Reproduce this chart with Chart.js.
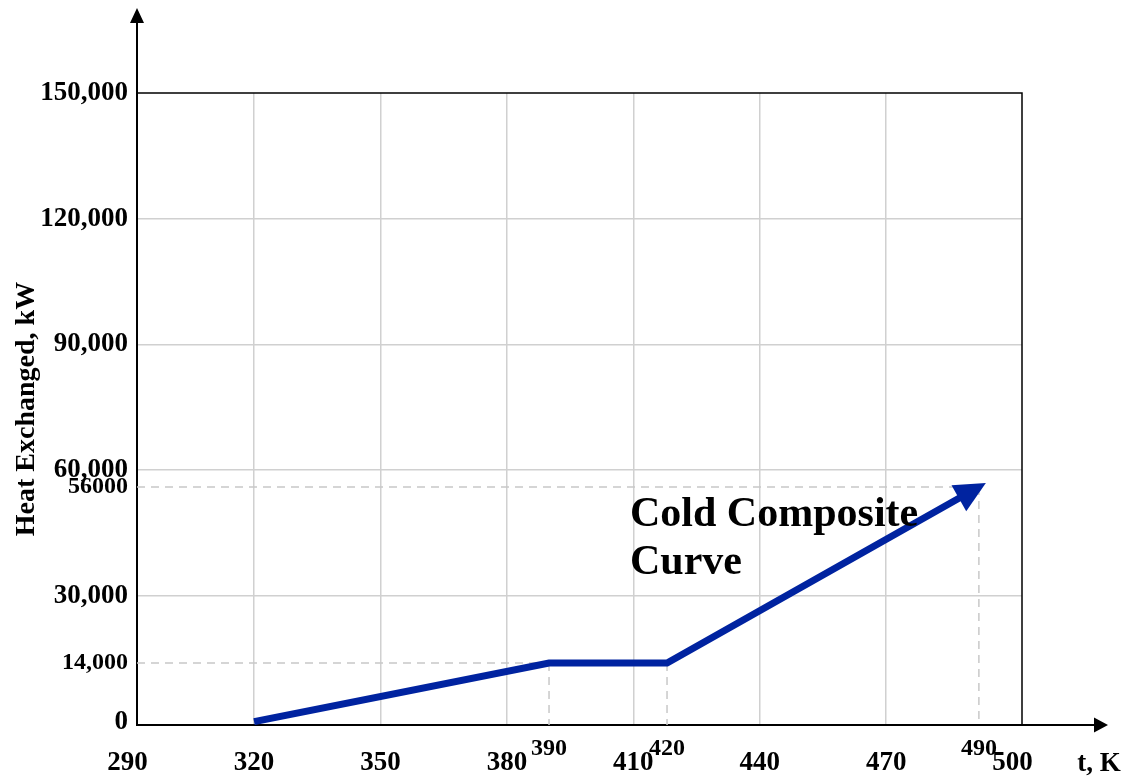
<!DOCTYPE html>
<html>
<head>
<meta charset="utf-8">
<script src="https://cdn.jsdelivr.net/npm/chart.js@4/dist/chart.umd.min.js"></script>
<style>
  html, body { margin: 0; padding: 0; background: #fff; }
  #wrap { width: 1128px; height: 782px; }
</style>
</head>
<body>
<div id="wrap"><canvas id="cc" width="1128" height="782"></canvas></div>
<script>
// temperatures (K) and heat exchanged (kW) along the cold composite curve
const curveT = [320, 390, 418, 492];
const curveQ = [0, 14000, 14000, 56000];
const markLabels = ['', '390', '420', '490'];

// axis ticks
const xTicks = [290, 320, 350, 380, 410, 440, 470, 500];
const yTicks = [0, 14000, 30000, 56000, 60000, 90000, 120000, 150000];
const yTickLabels = ['0', '14,000', '30,000', '56000', '60,000', '90,000', '120,000', '150,000'];
const yGridTicks = [30000, 60000, 90000, 120000];
const ySmallTicks = [14000, 56000];

// which curve points get dashed guide lines
const vGuide = [false, true, true, true];
const hGuide = [false, true, false, true];

const FONT = "'Liberation Serif', 'Times New Roman', serif";
const BLUE = '#0023a0';
const GRID = '#d0d0d0';

const decor = {
  id: 'decor',
  beforeDatasetsDraw(chart) {
    const {ctx, chartArea: a, scales: {x, y}} = chart;
    ctx.save();
    ctx.strokeStyle = '#c8c8c8';
    ctx.lineWidth = 1.5;
    ctx.setLineDash([8, 6]);
    curveT.forEach((t, i) => {
      const px = x.getPixelForValue(t), py = y.getPixelForValue(curveQ[i]);
      ctx.beginPath();
      if (hGuide[i]) { ctx.moveTo(a.left, py); ctx.lineTo(px, py); }
      if (vGuide[i]) { ctx.moveTo(px, py); ctx.lineTo(px, a.bottom); }
      ctx.stroke();
    });
    ctx.restore();
  },
  afterDatasetsDraw(chart) {
    const {ctx, scales: {x, y}} = chart;
    const n = curveT.length;
    const x0 = x.getPixelForValue(curveT[n - 2]), y0 = y.getPixelForValue(curveQ[n - 2]);
    const x1 = x.getPixelForValue(curveT[n - 1]), y1 = y.getPixelForValue(curveQ[n - 1]);
    const ang = Math.atan2(y1 - y0, x1 - x0);
    const c = Math.cos(ang), s = Math.sin(ang);
    const tx = x1 + 8 * c, ty = y1 + 8 * s;
    const bx = tx - 31 * c, by = ty - 31 * s;
    ctx.save();
    ctx.fillStyle = BLUE;
    ctx.beginPath();
    ctx.moveTo(tx, ty);
    ctx.lineTo(bx - 15 * s, by + 15 * c);
    ctx.lineTo(bx + 15 * s, by - 15 * c);
    ctx.closePath();
    ctx.fill();
    ctx.restore();
  },
  afterDraw(chart) {
    const {ctx, chartArea: a, scales: {x}} = chart;
    ctx.save();
    // top and right frame
    ctx.strokeStyle = '#000';
    ctx.lineWidth = 1.5;
    ctx.beginPath();
    ctx.moveTo(a.left, a.top); ctx.lineTo(a.right, a.top); ctx.lineTo(a.right, a.bottom);
    ctx.stroke();
    // axis extensions with arrows
    ctx.lineWidth = 2;
    ctx.beginPath();
    ctx.moveTo(a.left, a.top); ctx.lineTo(a.left, 20);
    ctx.moveTo(a.right, a.bottom); ctx.lineTo(1096, a.bottom);
    ctx.stroke();
    ctx.fillStyle = '#000';
    ctx.beginPath();
    ctx.moveTo(a.left, 8); ctx.lineTo(a.left - 7, 23); ctx.lineTo(a.left + 7, 23); ctx.closePath();
    ctx.moveTo(1108, a.bottom); ctx.lineTo(1094, a.bottom - 7.5); ctx.lineTo(1094, a.bottom + 7.5); ctx.closePath();
    ctx.fill();
    // axis title
    ctx.textAlign = 'center';
    ctx.textBaseline = 'middle';
    ctx.font = `bold 27px ${FONT}`;
    ctx.fillText('t, K', 1099, a.bottom + 39);
    // labels for the break points
    ctx.font = `bold 24px ${FONT}`;
    curveT.forEach((t, i) => {
      if (markLabels[i]) ctx.fillText(markLabels[i], x.getPixelForValue(t), a.bottom + 24);
    });
    // curve name
    ctx.textAlign = 'left';
    ctx.textBaseline = 'alphabetic';
    ctx.font = `bold 42px ${FONT}`;
    ctx.fillText('Cold Composite', 630, 526);
    ctx.fillText('Curve', 630, 574);
    ctx.restore();
  }
};

new Chart(document.getElementById('cc'), {
  type: 'line',
  data: {
    datasets: [{
      data: curveT.map((t, i) => ({x: t, y: curveQ[i]})),
      borderColor: BLUE,
      borderWidth: 7,
      borderCapStyle: 'butt',
      borderJoinStyle: 'miter',
      pointRadius: 0,
      tension: 0,
      fill: false
    }]
  },
  options: {
    responsive: false,
    animation: false,
    events: [],
    layout: { padding: { top: 93, right: 106, left: 0, bottom: 0 } },
    plugins: { legend: { display: false }, tooltip: { enabled: false } },
    scales: {
      x: {
        type: 'linear',
        min: 292.23,
        max: 502.23,
        afterBuildTicks: s => { s.ticks = xTicks.map(v => ({value: v})); },
        afterFit: s => { s.height = 57; },
        grid: {
          drawTicks: false,
          lineWidth: 1.5,
          color: c => (c.tick && c.tick.value > 300 && c.tick.value < 490) ? GRID : 'rgba(0,0,0,0)'
        },
        border: { display: true, color: '#000', width: 2 },
        ticks: {
          autoSkip: false,
          maxRotation: 0,
          padding: 22,
          color: '#000',
          font: { family: FONT, weight: 'bold', size: 27 },
          callback: v => String(v)
        }
      },
      y: {
        type: 'linear',
        min: -800,
        max: 150000,
        afterBuildTicks: s => { s.ticks = yTicks.map(v => ({value: v})); },
        afterFit: s => { s.width = 137; },
        grid: {
          drawTicks: false,
          lineWidth: 1.5,
          color: c => (c.tick && yGridTicks.includes(c.tick.value)) ? GRID : 'rgba(0,0,0,0)'
        },
        border: { display: true, color: '#000', width: 2 },
        title: {
          display: true,
          text: 'Heat Exchanged, kW',
          color: '#000',
          padding: { top: 10, bottom: 0 },
          font: { family: FONT, weight: 'bold', size: 28, lineHeight: 1.2 }
        },
        ticks: {
          autoSkip: false,
          padding: 9,
          color: '#000',
          font: c => ({ family: FONT, weight: 'bold', size: (c.tick && ySmallTicks.includes(c.tick.value)) ? 24 : 27 }),
          callback: (v, i) => yTickLabels[yTicks.indexOf(v)]
        }
      }
    }
  },
  plugins: [decor]
});
</script>
</body>
</html>
